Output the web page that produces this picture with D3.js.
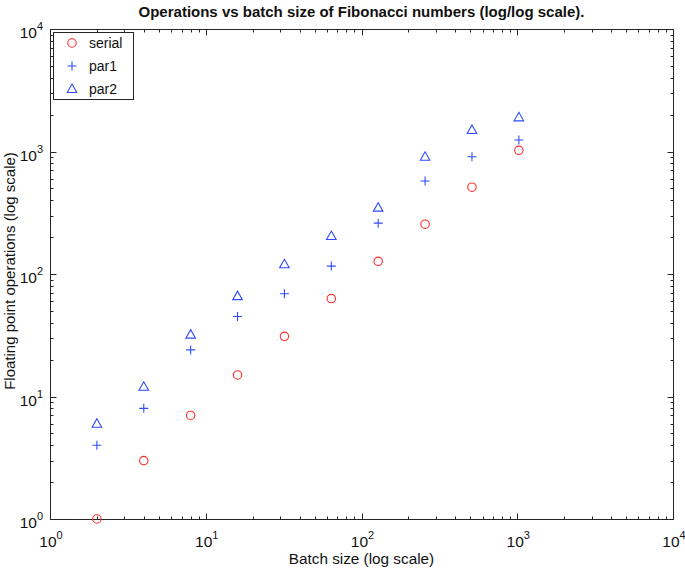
<!DOCTYPE html>
<html>
<head>
<meta charset="utf-8">
<script src="https://cdn.jsdelivr.net/npm/d3@7"></script>
<style>
  html, body { margin: 0; padding: 0; background: #fff; }
  svg { display: block; font-family: "Liberation Sans", Arial, sans-serif; }
</style>
</head>
<body>
<svg id="chart" width="685" height="570"></svg>
<script>
const batchSizes = [2, 4, 8, 16, 32, 64, 128, 256, 512, 1024];
const serialOps = [1, 3, 7, 15, 31, 63, 127, 255, 511, 1023];
const par1Ops = [4, 8, 24, 45, 69, 116, 260, 574, 907, 1240];
const par2Ops = [6, 12, 32, 66, 120, 204, 348, 905, 1500, 1900];
const tickExponents = [0, 1, 2, 3, 4];
const seriesNames = ["serial", "par1", "par2"];

(function () {
const svg = d3.select("#chart");
const pL = 50, pR = 673, pT = 29, pB = 519;

const x = d3.scaleLog().domain([1, 1e4]).range([pL, pR]);
const y = d3.scaleLog().domain([1, 1e4]).range([pB, pT]);

const red = "#ff2a2a", blue = "#2f4cff";
const axisColor = "#262626";

const majors = tickExponents.map(e => Math.pow(10, e));
const minors = [];
for (let e = 0; e < 4; e++) for (let m = 2; m <= 9; m++) minors.push(m * Math.pow(10, e));

const g = svg.append("g");

g.append("rect").attr("x", pL + 0.5).attr("y", pT + 0.5)
  .attr("width", pR - pL).attr("height", pB - pT)
  .attr("fill", "none").attr("stroke", axisColor).attr("stroke-width", 1);

function tickLines(vals, len) {
  vals.forEach(v => {
    const px = Math.round(x(v)) + 0.5, py = Math.round(y(v)) + 0.5;
    g.append("line").attr("x1", px).attr("x2", px).attr("y1", pB + 0.5).attr("y2", pB + 0.5 - len).attr("stroke", axisColor);
    g.append("line").attr("x1", px).attr("x2", px).attr("y1", pT + 0.5).attr("y2", pT + 0.5 + len).attr("stroke", axisColor);
    g.append("line").attr("y1", py).attr("y2", py).attr("x1", pL + 0.5).attr("x2", pL + 0.5 + len).attr("stroke", axisColor);
    g.append("line").attr("y1", py).attr("y2", py).attr("x1", pR + 0.5).attr("x2", pR + 0.5 - len).attr("stroke", axisColor);
  });
}
tickLines(majors, 6);
tickLines(minors, 3);

function powLabel(sel, e) {
  sel.append("tspan").text("10");
  sel.append("tspan").attr("dy", -8).attr("font-size", 11).text(String(e));
}
tickExponents.forEach(e => {
  const v = Math.pow(10, e);
  const tx = svg.append("text").attr("x", x(v) + 1).attr("y", pB + 28)
    .attr("text-anchor", "middle").attr("font-size", 15.5).attr("fill", "#111");
  powLabel(tx, e);
  const ty = svg.append("text").attr("x", pL - 7).attr("y", y(v) + 9)
    .attr("text-anchor", "end").attr("font-size", 15.5).attr("fill", "#111");
  powLabel(ty, e);
});

svg.append("text").attr("x", (pL + pR) / 2).attr("y", 17)
  .attr("text-anchor", "middle").attr("font-size", 15).attr("font-weight", "bold").attr("fill", "#111")
  .text("Operations vs batch size of Fibonacci numbers (log/log scale).");
svg.append("text").attr("x", (pL + pR) / 2).attr("y", 564)
  .attr("text-anchor", "middle").attr("font-size", 15.3).attr("fill", "#111")
  .text("Batch size (log scale)");
svg.append("text").attr("transform", `translate(15,${(pT + pB) / 2 - 3}) rotate(-90)`)
  .attr("text-anchor", "middle").attr("font-size", 15).attr("fill", "#111")
  .text("Floating point operations (log scale)");

function drawCircle(sel, cx, cy) {
  sel.append("circle").attr("cx", cx).attr("cy", cy).attr("r", 4.2)
    .attr("fill", "none").attr("stroke", red).attr("stroke-width", 1.1);
}
function drawPlus(sel, cx, cy) {
  sel.append("path").attr("d", `M${cx - 4.5},${cy}H${cx + 4.5}M${cx},${cy - 4.5}V${cy + 4.5}`)
    .attr("fill", "none").attr("stroke", blue).attr("stroke-width", 1.1);
}
function drawTri(sel, cx, cy) {
  sel.append("path").attr("d", `M${cx},${cy - 5}L${cx + 4.8},${cy + 3.5}L${cx - 4.8},${cy + 3.5}Z`)
    .attr("fill", "none").attr("stroke", blue).attr("stroke-width", 1.1);
}

const mg = svg.append("g");
batchSizes.forEach((b, i) => {
  drawCircle(mg, x(b), y(serialOps[i]));
  drawPlus(mg, x(b), y(par1Ops[i]));
  drawTri(mg, x(b), y(par2Ops[i]));
});

const lg = svg.append("g");
lg.append("rect").attr("x", 53.5).attr("y", 32.5).attr("width", 80).attr("height", 67)
  .attr("fill", "#fff").attr("stroke", axisColor).attr("stroke-width", 1);
const drawers = [drawCircle, drawPlus, drawTri];
seriesNames.forEach((n, i) => {
  const cy = 43 + i * 23;
  drawers[i](lg, 72, cy);
  lg.append("text").attr("x", 89).attr("y", cy + 5).attr("font-size", 14).attr("fill", "#111").text(n);
});
})();
</script>
</body>
</html>
